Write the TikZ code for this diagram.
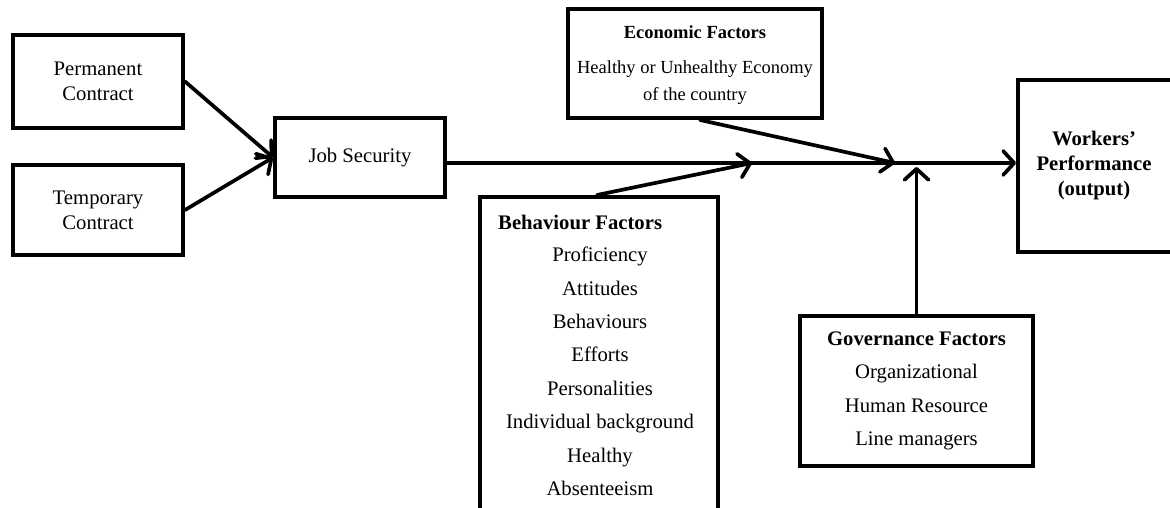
\documentclass[tikz,border=0pt]{standalone}
\usepackage{fontspec}
\setmainfont{Liberation Serif}
\usetikzlibrary{arrows.meta}
\begin{document}
\begin{tikzpicture}[x=1pt,y=-1pt,
  box/.style={draw, line width=4pt, inner sep=0pt, align=center},
  conn/.style={line width=3.7pt, line cap=round, -{Straight Barb[round,length=11pt,width=24pt]}},
  txt/.style={font=\fontsize{20.7}{25}\selectfont, align=center},
  listtxt/.style={font=\fontsize{20.7}{33.4}\selectfont, align=center, inner sep=0pt}]
\useasboundingbox (0,0) rectangle (1170,508);
\clip (0,0) rectangle (1170,508);

% boxes
\node[box, txt, minimum width=170pt, minimum height=93pt] (perm) at (98,81.5) {Permanent\\Contract};
\node[box, txt, minimum width=170pt, minimum height=90pt] (temp) at (98,210) {Temporary\\Contract};
\node[box, txt, minimum width=170pt, minimum height=79pt] (job) at (360,157.5) {Job Security};
\node[box, minimum width=254pt, minimum height=109pt] (econ) at (695,63.5) {};
\node[font=\fontsize{18.5}{27}\selectfont, align=center, inner sep=0pt] (econtxt) at (695,65)
  {\textbf{Economic Factors}\\[8pt]Healthy or Unhealthy Economy\\of the country};
\node[box, minimum width=157pt, minimum height=172pt] (work) at (1096.5,166) {};
\node[txt, font=\bfseries\fontsize{20.7}{25}\selectfont] (worktxt) at (1094,166) {Workers'\\Performance\\(output)};
\node[box, minimum width=238pt, minimum height=333pt] (beh) at (599,363.5) {};
\node[font=\bfseries\fontsize{20.7}{25}\selectfont, anchor=west, inner sep=0pt] (behtitle) at (498,222) {Behaviour Factors};
\node[listtxt] (behlist) at (600,371.5)
  {Proficiency\\Attitudes\\Behaviours\\Efforts\\Personalities\\Individual background\\Healthy\\Absenteeism};
\node[box, minimum width=233pt, minimum height=150pt] (gov) at (916.5,391) {};
\node[listtxt] (govtxt) at (916.5,391)
  {\textbf{Governance Factors}\\Organizational\\Human Resource\\Line managers};

% coordinates
\coordinate (ly) at (0,163);
\coordinate (m1) at (752,163);
\coordinate (m2) at (895,163);
\coordinate (gy) at (0,167);
\coordinate (bx) at (597,0);
\coordinate (ex) at (700,0);

% connectors
\draw[conn] (perm.east) -- (job.west);
\draw[conn] (temp.east) -- (job.west);
\draw[conn] (job.east |- ly) -- (work.west |- ly);
\draw[conn] (beh.north -| bx) -- (m1);
\draw[conn] (econ.south -| ex) -- (m2);
\draw[conn] (gov.north) -- (gov.north |- gy);
\end{tikzpicture}
\end{document}
